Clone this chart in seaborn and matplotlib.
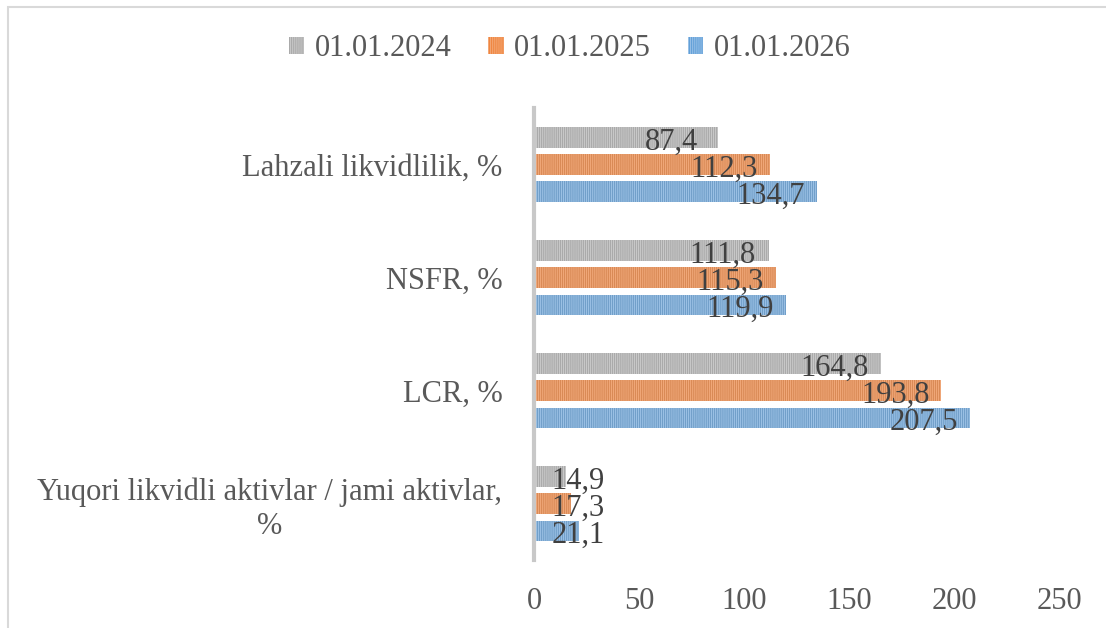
import matplotlib
matplotlib.use("Agg")
import matplotlib.pyplot as plt
import matplotlib.patches as mpatches
import seaborn as sns
import pandas as pd

# -------------------------------
# DATA
# -------------------------------
categories = ["Lahzali likvidlilik, %", "NSFR, %", "LCR, %",
              "Yuqori likvidli aktivlar / jami aktivlar,\n%"]
dates = ["01.01.2024", "01.01.2025", "01.01.2026"]
values_2024 = [87.4, 111.8, 164.8, 14.9]
values_2025 = [112.3, 115.3, 193.8, 17.3]
values_2026 = [134.7, 119.9, 207.5, 21.1]
colors = ["#aaaaaa", "#ef8640", "#62a0d8"]
stripe_colors = ["#cfcfcf", "#f5ae80", "#a3c7ea"]

df = pd.DataFrame({
    "category": categories * 3,
    "date": [d for d in dates for _ in categories],
    "value": values_2024 + values_2025 + values_2026,
})

sns.set_style("white")
plt.rcParams["font.family"] = ["Liberation Serif", "DejaVu Serif"]
plt.rcParams["hatch.linewidth"] = 0.6

FS = 22

fig = plt.figure(figsize=(11.06, 6.28), dpi=100)
ax = fig.add_axes([0.483, 0.108, 0.475, 0.72])

sns.barplot(data=df, x="value", y="category", hue="date", orient="h",
            order=categories, hue_order=dates, palette=colors,
            width=0.72, gap=0.25, legend=False, ax=ax)

# striped fill, like the Excel texture
for cont, sc in zip(ax.containers, stripe_colors):
    for bar in cont:
        bar.set_hatch("|" * 8)
        bar.set_edgecolor(sc)
        bar.set_linewidth(0)

# data labels
for cont, vals in zip(ax.containers, [values_2024, values_2025, values_2026]):
    for bar, v in zip(cont, vals):
        yc = bar.get_y() + bar.get_height() / 2
        ax.text(max(v - 22, 21), yc + 0.04, f"{v:.1f}".replace(".", ","),
                ha="center", va="center", fontsize=FS, color="#404040")

ax.set_xlim(0, 250)
ax.set_xticks([0, 50, 100, 150, 200, 250])
ax.set_xlabel("")
ax.set_ylabel("")
ax.tick_params(axis="x", length=0, pad=19, labelsize=FS, labelcolor="#595959")
ax.tick_params(axis="y", length=0, pad=23, labelsize=FS, labelcolor="#595959")
for lbl in ax.get_yticklabels():
    lbl.set_multialignment("center")

for side in ["top", "right", "bottom"]:
    ax.spines[side].set_visible(False)
ax.spines["left"].set_color("#c8c8c8")
ax.spines["left"].set_linewidth(3)

handles = [mpatches.Patch(facecolor=c, edgecolor=sc, hatch="|" * 8, linewidth=0, label=d)
           for c, sc, d in zip(colors, stripe_colors, dates)]
fig.legend(handles=handles, loc="center", bbox_to_anchor=(0.515, 0.922), ncol=3,
           frameon=False, fontsize=FS, labelcolor="#595959",
           handlelength=0.5, handleheight=0.5, handletextpad=0.35, columnspacing=1.2)

# chart border
fig.add_artist(mpatches.Rectangle((8 / 1106, -0.05), 1.1, 1.05 - 7 / 628,
                                  transform=fig.transFigure, fill=False,
                                  edgecolor="#d9d9d9", linewidth=1.5))

fig.savefig("out.png", dpi=100)
